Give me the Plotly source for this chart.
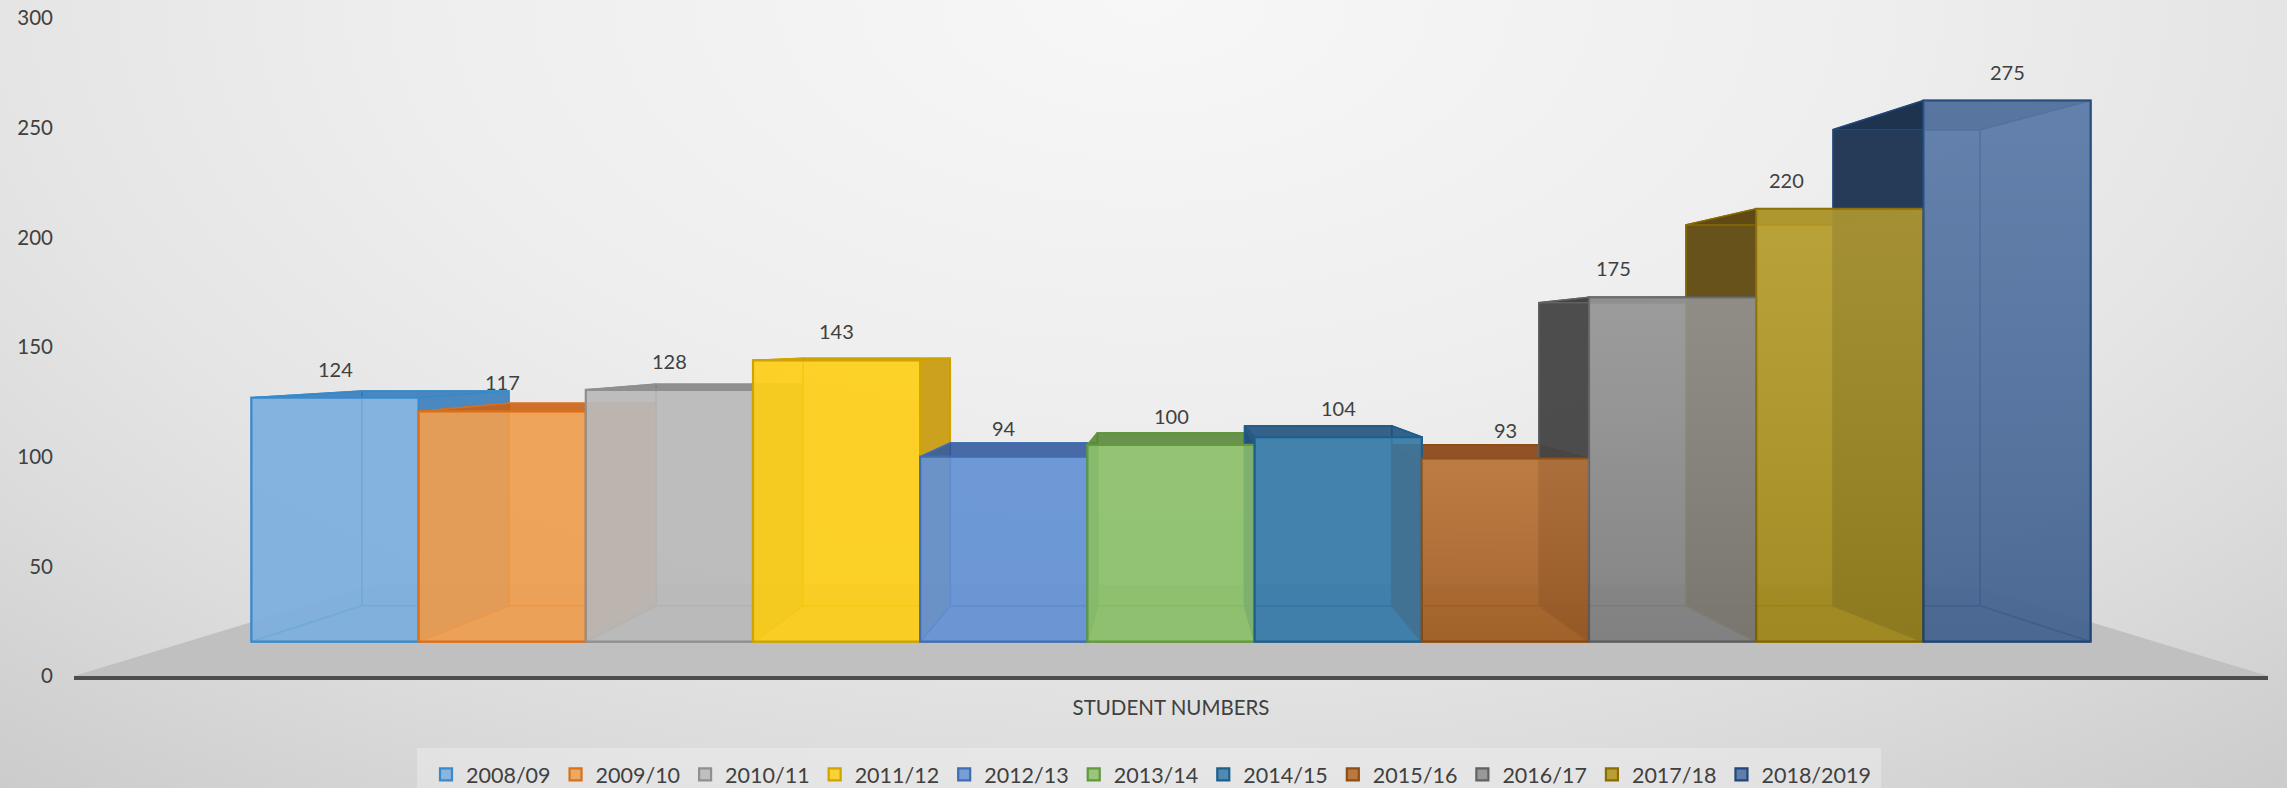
import plotly.graph_objects as go

# ---- data ----
categories = ["2008/09", "2009/10", "2010/11", "2011/12", "2012/13", "2013/14",
              "2014/15", "2015/16", "2016/17", "2017/18", "2018/2019"]
student_numbers = [124, 117, 128, 143, 94, 100, 104, 93, 175, 220, 275]
axis_category = "STUDENT NUMBERS"
y_ticks = [0, 50, 100, 150, 200, 250, 300]

# ---- styles ----
front_rgb = ["123,175,221", "239,158,80", "185,185,185", "253,206,25", "100,145,212", "140,192,106",
             "54,122,168", "178,102,36", "140,140,140", "176,148,26", "74,110,160"]
edge_col = ["#3a8ac9", "#d9701a", "#8f8f8f", "#cfa302", "#3f6eb3", "#62993c",
            "#1f5f8c", "#8f4e12", "#626262", "#8a6c00", "#20487a"]
side_rgb = ["46,117,182", "197,90,17", "127,127,127", "191,144,0", "47,85,151", "84,130,53",
            "31,78,121", "132,60,12", "64,64,64", "92,70,16", "26,47,75"]
FONT = "Lato, Carlito, sans-serif"
TXT = "#404040"
W, H = 2287, 788
L, R, T, B = 74, 2268, 18, 676     # plot box in page pixels
label_xshift = [0, 0, 0, 0, 0, 0, 0, 0, -59, -53, 0]

# ---- perspective, in axis units ----
UNIT_X = 186.4
HALF = (R - L) / 2 / UNIT_X
VP_Y = 152.0
S_BAR_FRONT, S_BAR_BACK, S_FLOOR_BACK = 0.897, 0.897 * 0.88, 0.726


def proj(wx, wy, s):
    return s * wx, VP_Y + s * (wy - VP_Y)


def poly(pts, s_list):
    xs, ys = [], []
    for (wx, wy), s in zip(pts, s_list):
        px, py = proj(wx, wy, s)
        xs.append(px)
        ys.append(py)
    xs.append(xs[0])
    ys.append(ys[0])
    return xs, ys


fig = go.Figure()

# page background (decorative), on its own full-page axes
fig.add_trace(go.Scatter(
    x=[-0.3, 1.3, 1.3, -0.3, -0.3], y=[-0.3, -0.3, 2.3, 2.3, -0.3],
    xaxis="x", yaxis="y", mode="lines", line=dict(width=0), fill="toself",
    fillgradient=dict(type="radial", colorscale=[[0, "#f7f7f7"], [0.4, "#eeeeee"], [0.62, "#e5e5e5"],
                                                 [0.77, "#dcdcdc"], [1, "#cbcbcb"]]),
    showlegend=False, hoverinfo="skip"))

# floor
fx, fy = poly([(-HALF, 0), (HALF, 0), (HALF, 0), (-HALF, 0)], [1, 1, S_FLOOR_BACK, S_FLOOR_BACK])
fig.add_trace(go.Scatter(x=fx, y=fy, xaxis="x2", yaxis="y2", mode="lines", line=dict(width=0),
                         fill="toself", fillcolor="#c0c0c0", showlegend=False, hoverinfo="skip"))


def face(pts, scales, fill, line, width=1.5):
    x, y = poly(pts, scales)
    fig.add_trace(go.Scatter(x=x, y=y, xaxis="x2", yaxis="y2", mode="lines",
                             line=dict(color=line, width=width), fill="toself", fillcolor=fill,
                             showlegend=False, hoverinfo="skip"))


F, K = S_BAR_FRONT, S_BAR_BACK
# hidden faces of every box go first, fronts go on top of them
for i, v in enumerate(student_numbers):
    x0, x1 = i - 5.5, i - 4.5
    side = side_rgb[i]
    e = edge_col[i]
    inner = f"rgba({front_rgb[i]},0.5)"
    # back
    face([(x0, 0), (x1, 0), (x1, v), (x0, v)], [K] * 4, inner, e)
    # bottom
    face([(x0, 0), (x1, 0), (x1, 0), (x0, 0)], [F, F, K, K], inner, e)
    # left and right sides: the one that shows outside the front is dark
    face([(x0, 0), (x0, v), (x0, v), (x0, 0)], [F, F, K, K], f"rgba({side},0.9)" if i > 5 else inner, e)
    face([(x1, 0), (x1, v), (x1, v), (x1, 0)], [F, F, K, K], f"rgba({side},0.78)" if i < 5 else inner, e)
    # top
    face([(x0, v), (x1, v), (x1, v), (x0, v)], [F, F, K, K], f"rgba({side},0.8)", e)

# fronts as real bars
for i, (c, v) in enumerate(zip(categories, student_numbers)):
    cx, top = proj(i - 5, v, F)
    _, base = proj(i - 5, 0, F)
    fig.add_trace(go.Bar(
        x=[cx], y=[top - base], base=[base], width=[F], name=c, xaxis="x3", yaxis="y3",
        marker=dict(color=f"rgba({front_rgb[i]},0.86)", line=dict(color=edge_col[i], width=2.2)),
        hovertemplate=f"{c}: {v}<extra></extra>"))
    if i >= 7:
        x, y = poly([(i - 5.5, 0), (i - 4.5, 0), (i - 4.5, v), (i - 5.5, v)], [F] * 4)
        fig.add_trace(go.Scatter(
            x=x, y=y, xaxis="x3", yaxis="y3", mode="lines", line=dict(width=0), fill="toself",
            fillgradient=dict(type="vertical",
                              colorscale=[[0, "rgba(0,0,0,0.10)"], [1, "rgba(255,255,255,0.08)"]]),
            showlegend=False, hoverinfo="skip"))
    fig.add_annotation(x=cx, y=top, xref="x3", yref="y3", text=str(v), showarrow=False,
                       yshift=29, xshift=label_xshift[i], font=dict(family=FONT, size=20, color=TXT))

dom_x = [L / W, R / W]
dom_y = [(H - B) / H, (H - T) / H]
hidden = dict(visible=False, fixedrange=True)
fig.update_layout(
    width=W, height=H, margin=dict(l=0, r=0, t=0, b=0, autoexpand=False), autosize=False,
    paper_bgcolor="#e2e2e2", plot_bgcolor="rgba(0,0,0,0)", barmode="overlay",
    xaxis=dict(domain=[0, 1], range=[0, 1], **hidden),
    yaxis=dict(domain=[0, 1], range=[0, 1], **hidden),
    xaxis2=dict(domain=dom_x, range=[-HALF, HALF], anchor="y2", showgrid=False, zeroline=False,
                showline=True, linecolor="#4d4d4d", linewidth=4, ticks="",
                tickvals=[0], ticktext=[axis_category], ticklabelstandoff=10,
                tickfont=dict(family=FONT, size=20.5, color=TXT), fixedrange=True),
    yaxis2=dict(domain=dom_y, range=[0, 300], anchor="x2", showgrid=False, zeroline=False,
                showline=False, ticks="", tickvals=y_ticks, ticklabelstandoff=20,
                tickfont=dict(family=FONT, size=20.5, color=TXT), fixedrange=True),
    xaxis3=dict(domain=dom_x, range=[-HALF, HALF], anchor="y3", **hidden),
    yaxis3=dict(domain=dom_y, range=[0, 300], anchor="x3", **hidden),
    legend=dict(orientation="h", x=426 / W, xanchor="left",
                y=-7 / H, yanchor="bottom",
                bgcolor="rgba(0,0,0,0)", font=dict(family=FONT, size=21.5, color=TXT),
                itemwidth=30, traceorder="normal"),
    shapes=[dict(type="rect", xref="paper", yref="paper", x0=417 / W, x1=1881 / W,
                 y0=0, y1=(H - 748) / H, fillcolor="rgba(255,255,255,0.28)",
                 line=dict(width=0), layer="above")],
)
fig.write_html("out.html", config={"displayModeBar": False},
               post_script="document.body.style.margin='0';document.documentElement.style.overflow='hidden';")
